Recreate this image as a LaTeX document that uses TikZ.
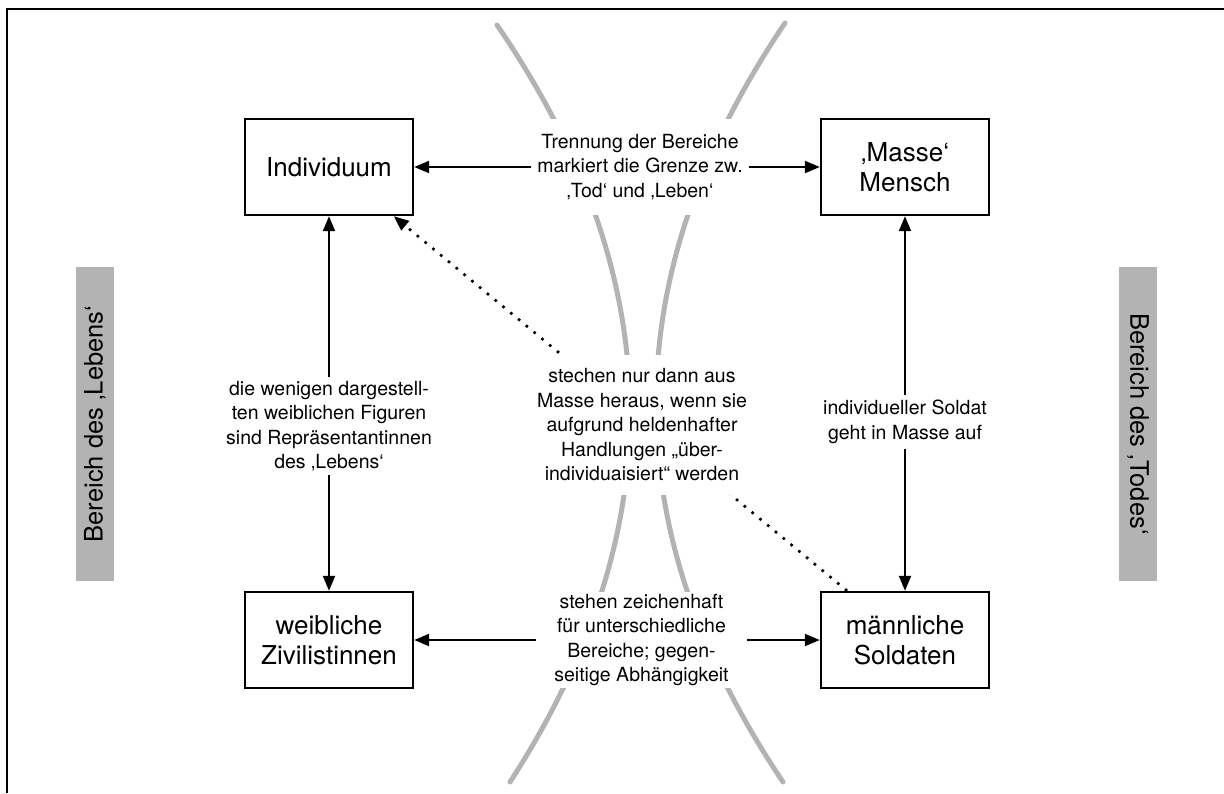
\documentclass[tikz,border=0pt]{standalone}
\usepackage{fontspec}
\setmainfont{TeX Gyre Heros}
\usetikzlibrary{arrows.meta,calc}
\definecolor{curvegray}{HTML}{B3B3B3}
\begin{document}
\begin{tikzpicture}[x=1pt,y=-1pt,
  box/.style={draw=black, line width=2.4pt, minimum width=168pt, minimum height=96pt, inner sep=0pt, align=center, font=\fontsize{26}{30}\selectfont},
  lbl/.style={fill=white, inner sep=0pt, align=center, font=\fontsize{19.5}{24.5}\selectfont},
  conn/.style={line width=2.2pt, -{Triangle[length=15pt,width=12pt]}},
  dotline/.style={line width=2.6pt, dash pattern=on 2.6pt off 7.5pt, -{Triangle[length=15pt,width=12pt]}},
  zone/.style={line width=5pt, draw=curvegray, line cap=round},
  sidebar/.style={fill=curvegray, minimum width=38pt, minimum height=314pt, inner sep=0pt},
  sidetext/.style={font=\fontsize{25.5}{30}\selectfont, inner sep=0pt}
]
\useasboundingbox (0,0) rectangle (1224,793);
% frame
\draw[line width=2.2pt, line join=miter] (1224,9) -- (7,9) -- (7,793);

% main boxes
\node[box] (indiv) at (329,167) {Individuum};
\node[box] (masse) at (905,167) {‚Masse‘\\Mensch};
\node[box] (weib) at (329,640) {weibliche\\Zivilistinnen};
\node[box] (sold) at (905,640) {männliche\\Soldaten};

% gray zone boundaries
\draw[zone] (497,25) .. controls (670,277) and (674,529) .. (510,782);
\draw[zone] (785,23) .. controls (614,276) and (613,529) .. (783,782);

% dotted connection
\coordinate (dotS) at ($(sold.north west)!0.16!(sold.north east)$);
\coordinate (dotI) at ($(indiv.south west)!0.88!(indiv.south east)$);
\draw[dotline] (dotS) -- (dotI);

% labels
\node[lbl, minimum width=217pt, minimum height=96pt] (toplbl) at (640,167)
  {Trennung der Bereiche\\markiert die Grenze zw.\\‚Tod‘ und ‚Leben‘};
\node[lbl, minimum width=215pt, minimum height=140pt] (midlbl) at (642,425)
  {stechen nur dann aus\\Masse heraus, wenn sie\\aufgrund heldenhafter\\Handlungen „über-\\individuaisiert“ werden};
\node[lbl, minimum width=211pt, minimum height=96pt] (botlbl) at (641.5,640)
  {stehen zeichenhaft\\für unterschiedliche\\Bereiche; gegen-\\seitige Abhängigkeit};
\node[lbl, minimum height=97pt] (leftlbl) at (329,426)
  {die wenigen dargestell-\\ten weiblichen Figuren\\sind Repräsentantinnen\\des ‚Lebens‘};
\node[lbl, minimum height=53pt] (rightlbl) at (905,422)
  {individueller Soldat\\geht in Masse auf};

% connectors
\draw[conn] (toplbl.west) -- (indiv.east);
\draw[conn] (toplbl.east) -- (masse.west);
\draw[conn] (botlbl.west) -- (weib.east);
\draw[conn] (botlbl.east) -- (sold.west);
\draw[conn] (leftlbl.north) -- (indiv.south);
\draw[conn] (leftlbl.south) -- (weib.north);
\draw[conn] (rightlbl.north) -- (masse.south);
\draw[conn] (rightlbl.south) -- (sold.north);

% side bars
\node[sidebar] (lbar) at (95,424) {};
\node[sidetext, rotate=90] (ltext) at (lbar.center) {Bereich des ‚Lebens‘};
\node[sidebar] (rbar) at (1138,424) {};
\node[sidetext, rotate=-90] (rtext) at (rbar.center) {Bereich des ‚Todes‘};
\end{tikzpicture}
\end{document}
